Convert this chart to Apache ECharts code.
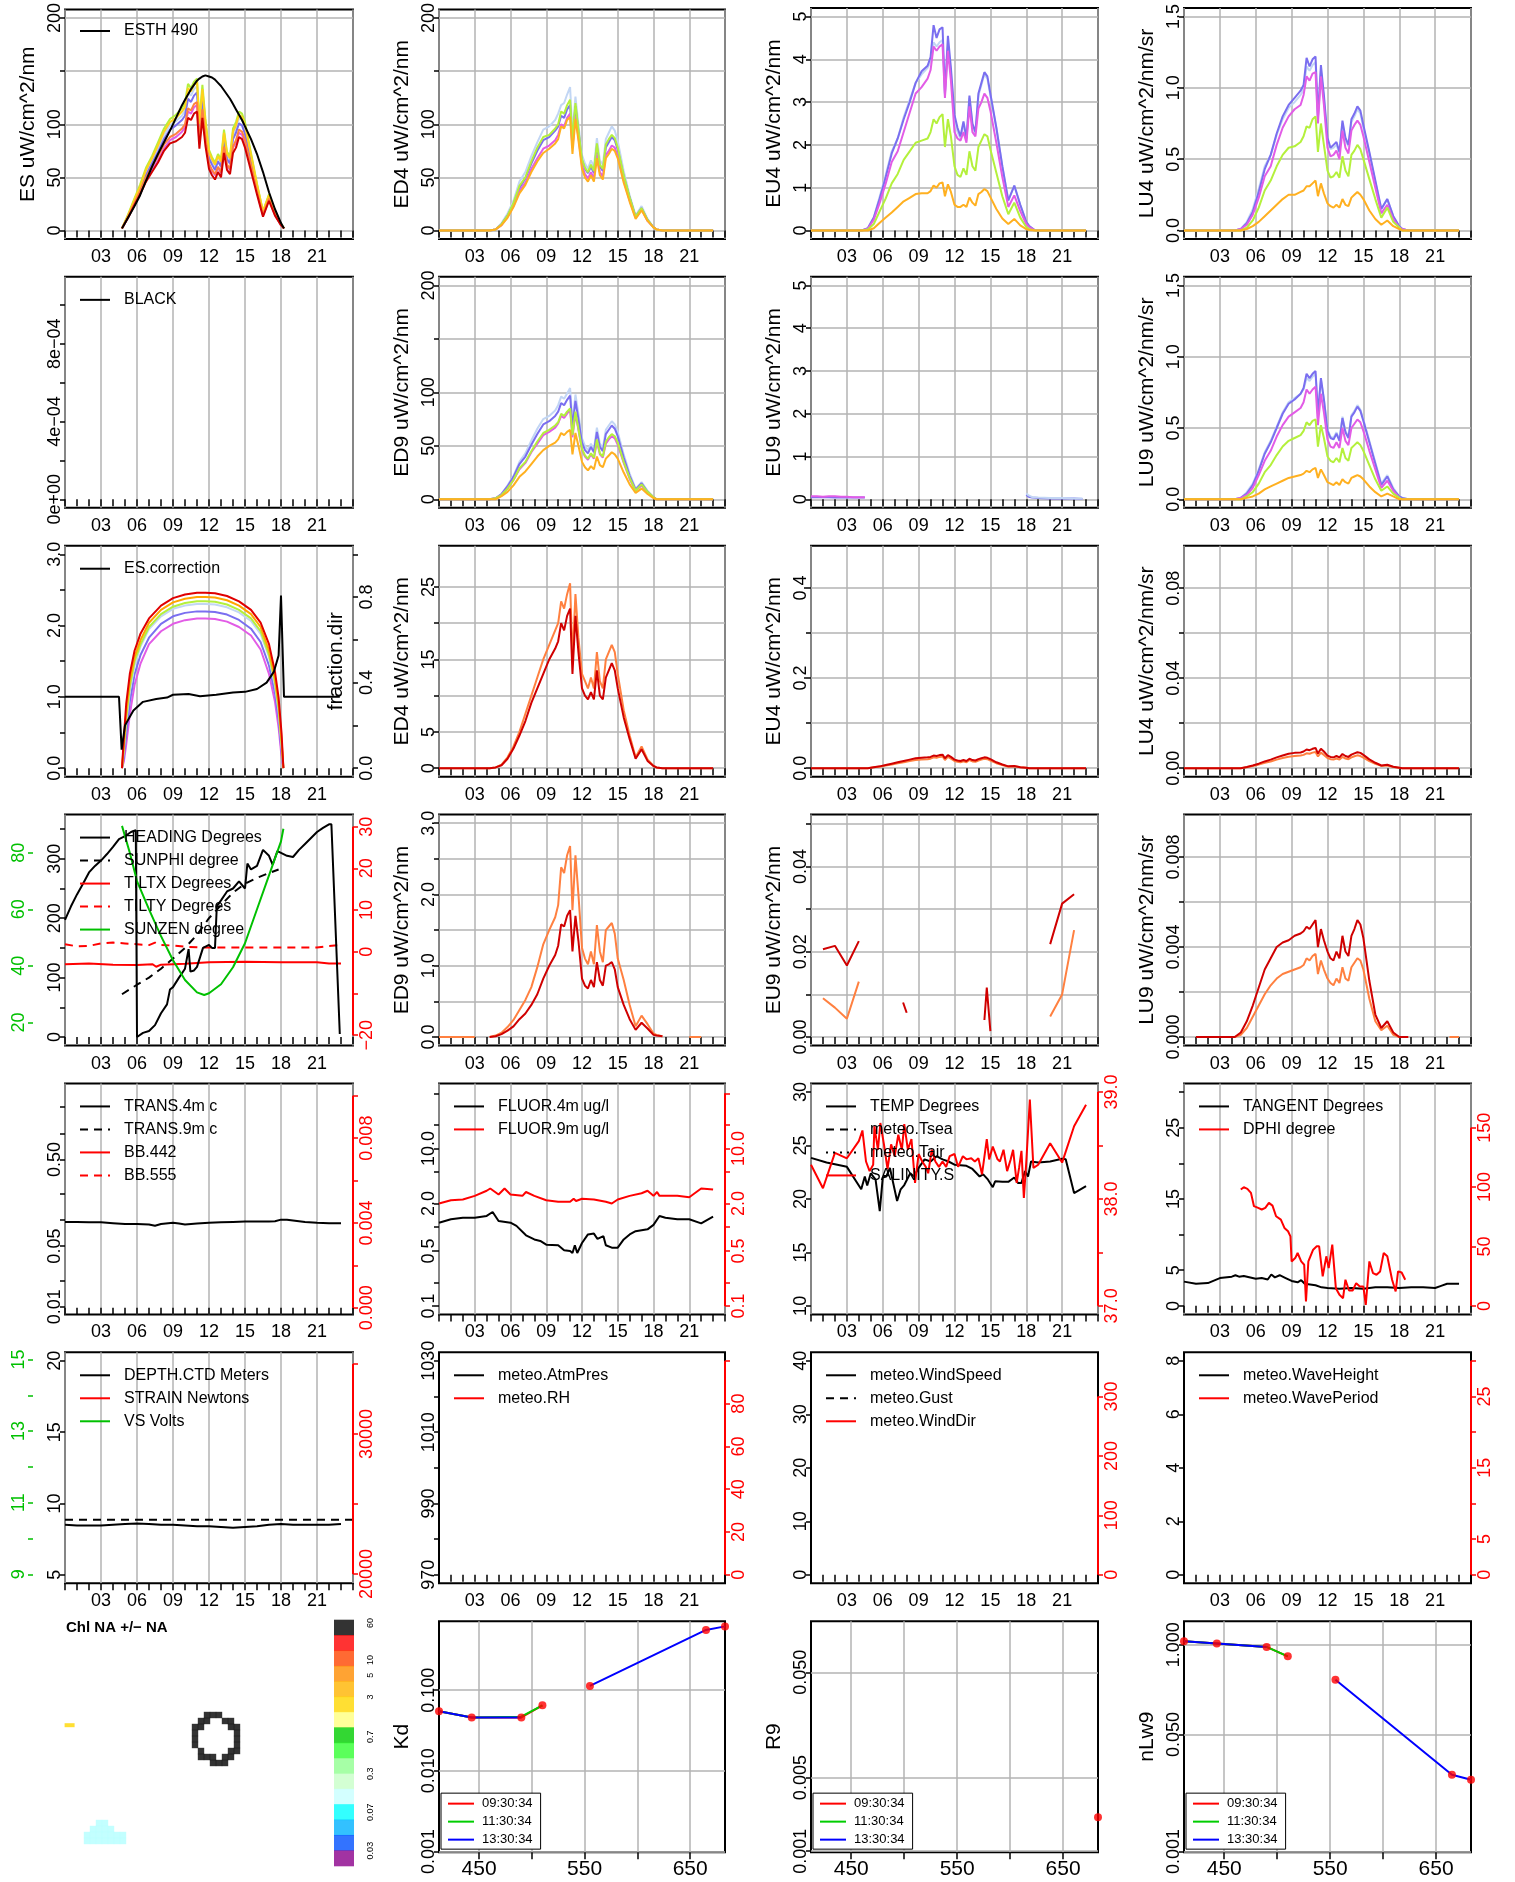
<!DOCTYPE html>
<html><head><meta charset="utf-8">
<script src="https://cdn.jsdelivr.net/npm/echarts@6.0.0/dist/echarts.min.js"></script>
<style>html,body{margin:0;padding:0;background:#fff;}#c{width:1515px;height:1882px;}</style>
</head><body><div id="c"></div>
<script>
// ================= DATA =================
const TD=[4.75,5.25,5.75,6.25,6.75,7.25,7.75,8.25,8.75,9.25,9.75,10,10.25,10.5,10.75,11,11.2,11.45,11.7,12,12.25,12.5,12.75,13,13.25,13.5,13.75,14,14.25,14.5,14.75,15,15.5,16,16.5,17,17.5,18,18.25];
const TE=[0,4.25].concat(TD,[18.75,23]);

// ES (row 1, col 1)
const ES_ESTH=[2,12,22,33,47,60,72,83,94,106,118,123,128,133,137,141,143,145,146,145,144,142,139,136,132,128,124,119,114,109,104,98,86,72,55,36,20,7,2];
const ES_RD=[2,12,23,34,46,55,64,75,82,84,88,92,106,104,110,112,77,106,80,58,52,48,55,50,73,57,53,73,78,88,86,78,56,34,13,28,14,5,2];
const ES_CO=[2,13,25,37,50,60,70,81,88,91,96,100,115,113,119,121,85,114,87,63,57,53,60,55,79,62,58,79,85,95,93,85,61,37,15,30,15,5,2];
const ES_MG=[2,12,24,35,47,57,66,77,85,88,93,97,112,110,116,118,82,112,85,62,56,52,59,54,77,61,57,78,83,92,90,83,60,36,14,29,15,5,2];
const ES_BL=[2,13,26,38,52,63,74,86,95,99,104,108,124,121,127,130,92,123,94,68,62,57,65,60,85,67,63,86,92,101,99,91,66,40,16,31,16,5,2];
const ES_LB=[2,14,27,40,55,66,78,90,99,103,108,113,130,127,133,136,96,129,99,72,65,60,68,63,89,70,66,90,96,106,104,96,69,42,17,33,17,6,2];
const ES_OR=[2,14,28,41,57,68,80,93,102,106,112,116,134,131,137,140,100,133,102,74,67,62,70,65,92,72,68,93,99,109,107,99,71,43,18,33,17,6,2];
const ES_GY=[2,15,29,43,59,70,83,96,105,109,115,120,138,134,140,143,104,137,105,76,69,64,72,67,95,74,70,96,102,112,110,102,73,44,18,34,18,6,2];

// ED4
const ED4_OR=[0,0,1,5,12,22,35,43,55,65,73,77,82,86,98,96,104,107,72,105,85,58,50,46,52,46,68,52,48,68,72,77,75,68,45,27,11,19,9,3,1,0,0];
const ED4_MG=[0,0,1,5,13,23,37,45,58,68,77,80,85,90,100,98,106,110,78,108,88,61,53,49,55,49,72,55,51,71,75,80,78,70,47,28,12,20,9,3,1,0,0];
const ED4_BL=[0,0,1,6,14,25,40,49,63,75,85,88,94,98,108,106,114,118,82,117,93,66,58,54,60,54,79,60,56,78,83,88,85,76,51,31,13,21,10,3,1,0,0];
const ED4_GR=[0,0,1,6,14,26,42,50,65,78,88,90,96,100,112,110,118,123,85,120,95,67,59,55,62,56,82,62,58,81,86,90,87,78,52,31,13,21,10,3,1,0,0];
const ED4_LB=[0,0,1,7,16,28,46,55,70,83,95,98,104,110,118,120,128,135,92,126,100,71,63,58,66,60,87,66,62,86,92,98,94,84,56,33,14,23,11,3,1,0,0];

// EU4
const EU4_BL=[0,0,0.05,0.3,0.75,1.25,1.8,2.15,2.6,3.0,3.45,3.72,3.85,4.05,4.8,4.5,4.7,4.75,3.2,4.55,3.8,2.7,2.4,2.2,2.55,2.15,3.15,2.5,2.3,3.2,3.45,3.7,3.6,3.2,2.4,1.5,0.7,1.05,0.6,0.2,0.1,0,0];
const EU4_LB=[0,0,0.05,0.3,0.8,1.3,1.85,2.15,2.65,3.05,3.45,3.65,3.8,3.95,4.4,4.3,4.4,4.45,3.15,4.3,3.7,2.6,2.3,2.15,2.5,2.1,3.1,2.45,2.25,3.15,3.4,3.65,3.55,3.15,2.4,1.5,0.7,1.05,0.6,0.2,0.1,0,0];
const EU4_MG=[0,0,0.04,0.25,0.65,1.1,1.6,1.85,2.3,2.75,3.2,3.35,3.55,3.75,4.3,4.2,4.3,4.35,3.1,4.2,3.5,2.3,2.15,2.1,2.3,2.05,2.9,2.3,2.2,2.85,3.0,3.2,3.1,2.8,2.05,1.25,0.55,0.82,0.45,0.15,0.08,0,0];
const EU4_GR=[0,0,0.02,0.15,0.45,0.75,1.1,1.32,1.65,1.85,2.05,2.1,2.15,2.3,2.6,2.5,2.65,2.72,1.95,2.6,2.2,1.5,1.3,1.25,1.45,1.3,1.85,1.5,1.4,1.95,2.1,2.25,2.2,1.9,1.35,0.8,0.38,0.65,0.3,0.08,0.03,0,0];
const EU4_OR=[0,0,0,0.05,0.18,0.3,0.42,0.55,0.68,0.76,0.85,0.87,0.87,0.92,1.05,1.0,1.1,1.12,0.8,1.08,0.9,0.6,0.55,0.55,0.6,0.55,0.77,0.65,0.58,0.85,0.9,0.97,0.92,0.78,0.5,0.28,0.15,0.27,0.12,0.03,0.01,0,0];

// LU4
const LU4_BL=[0,0,0.01,0.05,0.13,0.27,0.43,0.53,0.68,0.8,0.88,0.93,0.98,1.02,1.21,1.15,1.2,1.22,0.8,1.16,0.95,0.65,0.58,0.6,0.62,0.55,0.77,0.65,0.6,0.78,0.82,0.87,0.84,0.74,0.55,0.35,0.15,0.22,0.1,0.03,0.01,0,0];
const LU4_LB=[0,0,0.01,0.06,0.15,0.29,0.45,0.53,0.67,0.78,0.86,0.9,0.95,0.99,1.15,1.12,1.16,1.18,0.78,1.12,0.92,0.63,0.57,0.58,0.6,0.54,0.75,0.63,0.59,0.76,0.8,0.85,0.82,0.72,0.54,0.34,0.15,0.22,0.1,0.03,0.01,0,0];
const LU4_MG=[0,0,0.01,0.04,0.11,0.23,0.38,0.45,0.6,0.72,0.8,0.85,0.88,0.95,1.08,1.05,1.1,1.11,0.75,1.08,0.88,0.58,0.52,0.53,0.56,0.5,0.7,0.58,0.54,0.7,0.74,0.77,0.74,0.66,0.48,0.3,0.12,0.18,0.08,0.02,0.01,0,0];
const LU4_GR=[0,0,0,0.02,0.07,0.16,0.28,0.35,0.45,0.53,0.58,0.59,0.62,0.66,0.73,0.72,0.78,0.8,0.55,0.75,0.6,0.42,0.37,0.38,0.41,0.37,0.52,0.42,0.38,0.53,0.56,0.6,0.57,0.5,0.36,0.22,0.09,0.16,0.06,0.02,0,0,0];
const LU4_OR=[0,0,0,0.01,0.03,0.06,0.1,0.14,0.18,0.22,0.25,0.25,0.27,0.28,0.31,0.31,0.33,0.35,0.24,0.33,0.26,0.19,0.17,0.16,0.18,0.16,0.22,0.18,0.17,0.23,0.25,0.27,0.25,0.22,0.14,0.08,0.04,0.07,0.03,0.01,0,0,0];

// ED9
const ED9_OR=[0,0,0,3,7,13,21,26,33,40,46,50,53,56,62,60,63,65,42,62,50,35,30,27,31,28,40,32,30,38,41,44,42,38,25,14,6,10,5,1,0,0,0];
const ED9_MG=[0,0,1,4,10,18,28,34,44,52,60,63,67,71,78,76,80,84,58,80,65,46,40,37,42,38,54,42,39,52,56,59,57,51,34,19,8,13,6,2,0,0,0];
const ED9_GR=[0,0,1,4,10,18,29,35,45,54,62,65,69,72,80,78,82,85,60,82,66,47,41,38,43,39,56,43,40,54,58,61,59,53,35,20,8,14,7,2,0,0,0];
const ED9_BL=[0,0,1,5,12,21,33,40,51,61,70,73,78,82,90,88,93,97,68,92,75,53,46,43,49,44,63,49,45,61,65,69,66,59,39,22,9,15,7,2,0,0,0];
const ED9_LB=[0,0,1,5,13,22,35,43,55,66,75,78,83,88,96,94,99,104,72,98,80,57,50,46,52,47,67,52,48,65,69,73,70,63,42,24,10,16,8,2,0,0,0];

// EU9 (small fragments)
const EU9_T1=[0,0.5,1,1.5,2,2.5,3,3.5,4,4.5];
const EU9_MG1=[0.07,0.07,0.06,0.07,0.07,0.06,0.06,0.05,0.05,0.05];
const EU9_BL1=[0.05,0.05,0.05,0.05,0.04,0.04,0.04,0.04,0.04,0.04];
const EU9_T2=[18,18.2,18.5,19,20,21,22,22.7];
const EU9_LB2=[0.14,0.09,0.05,0.04,0.03,0.03,0.02,0.02];
const EU9_BL2=[0.1,0.06,0.04,0.03,0.02,0.02,0.02,0.01];

// LU9
const LU9_BL=[0,0,0.01,0.04,0.1,0.2,0.32,0.4,0.5,0.6,0.67,0.7,0.74,0.78,0.88,0.85,0.88,0.9,0.6,0.85,0.7,0.48,0.43,0.42,0.46,0.41,0.57,0.47,0.43,0.58,0.61,0.65,0.62,0.55,0.4,0.25,0.1,0.16,0.07,0.02,0.01,0,0];
const LU9_LB=[0,0,0.01,0.05,0.11,0.21,0.33,0.41,0.51,0.61,0.68,0.71,0.74,0.77,0.85,0.83,0.86,0.88,0.6,0.84,0.7,0.49,0.44,0.43,0.47,0.42,0.58,0.48,0.44,0.59,0.62,0.66,0.63,0.56,0.41,0.26,0.11,0.17,0.08,0.02,0.01,0,0];
const LU9_MG=[0,0,0.01,0.03,0.08,0.17,0.27,0.34,0.44,0.52,0.58,0.61,0.64,0.68,0.77,0.74,0.77,0.79,0.52,0.74,0.61,0.42,0.37,0.36,0.4,0.36,0.5,0.41,0.38,0.5,0.53,0.56,0.54,0.48,0.34,0.21,0.08,0.13,0.06,0.01,0,0,0];
const LU9_GR=[0,0,0,0.02,0.05,0.11,0.19,0.24,0.31,0.37,0.41,0.43,0.45,0.48,0.54,0.52,0.55,0.56,0.37,0.52,0.43,0.3,0.27,0.26,0.29,0.26,0.36,0.29,0.27,0.36,0.38,0.4,0.38,0.34,0.24,0.14,0.06,0.09,0.04,0.01,0,0,0];
const LU9_OR=[0,0,0,0.01,0.02,0.04,0.07,0.09,0.11,0.13,0.15,0.16,0.17,0.18,0.2,0.19,0.21,0.22,0.15,0.21,0.17,0.12,0.11,0.1,0.12,0.1,0.14,0.12,0.11,0.15,0.16,0.17,0.16,0.14,0.09,0.05,0.02,0.04,0.02,0,0,0,0];

// ES.correction and fraction.dir
const ESC_T=[0,4.5,4.72,5,5.7,6.5,7.6,8.5,9,10.3,11.25,12.6,14,15,16,16.8,17.4,17.8,18,18.25,22.9];
const ESC_V=[1.0,1.0,0.26,0.6,0.81,0.93,0.97,0.99,1.03,1.04,1.01,1.03,1.06,1.07,1.11,1.2,1.35,1.58,2.42,1.0,1.0];
const ARC_T=[4.75,4.9,5.1,5.4,5.8,6.3,7,8,9,10,11,11.7,12.5,13.5,14.5,15.5,16.3,17,17.5,17.8,18.05,18.2];
const ARC_RD=[0,0.14,0.3,0.44,0.55,0.63,0.7,0.76,0.795,0.812,0.82,0.82,0.818,0.805,0.78,0.74,0.68,0.58,0.45,0.33,0.16,0];
const ARC_OR=[0,0.11,0.26,0.41,0.52,0.6,0.68,0.74,0.775,0.792,0.8,0.8,0.798,0.785,0.76,0.72,0.66,0.55,0.42,0.3,0.13,0];
const ARC_GR=[0,0.09,0.23,0.38,0.5,0.58,0.66,0.72,0.755,0.772,0.78,0.78,0.778,0.765,0.74,0.7,0.64,0.53,0.4,0.28,0.11,0];
const ARC_LB=[0,0.08,0.21,0.36,0.48,0.57,0.65,0.71,0.745,0.76,0.767,0.767,0.765,0.752,0.728,0.688,0.628,0.52,0.385,0.265,0.1,0];
const ARC_BL=[0,0.05,0.16,0.31,0.44,0.53,0.61,0.675,0.71,0.726,0.733,0.733,0.73,0.718,0.693,0.652,0.59,0.48,0.35,0.23,0.07,0];
const ARC_MG=[0,0.03,0.11,0.25,0.39,0.49,0.58,0.64,0.675,0.692,0.7,0.7,0.697,0.685,0.66,0.62,0.555,0.44,0.31,0.19,0.05,0];

// red-band radiometry
const ED4R_CO=[0,0,0.1,0.5,1.5,3,5,7.5,10,12.5,15,17,19,20,23,22,24,25.5,15,24,18,13,12,11,12.5,11,16,12,11,15,16,17,16,13,8,4.5,1.5,3,1.2,0.3,0.1,0,0];
const ED4R_RD=[0,0,0.1,0.4,1.3,2.7,4.5,6.5,9,11,13,15,16.5,17.5,20,19,21,22,13,21,16,11,10,9.5,10.5,9.5,13.5,10,9.5,12.5,13.5,14.5,13.5,11,7,4,1.3,2.6,1,0.3,0.1,0,0];
const EU4R_RD=[0,0,0,0.002,0.004,0.007,0.01,0.013,0.016,0.019,0.022,0.023,0.024,0.025,0.028,0.027,0.029,0.03,0.022,0.029,0.025,0.019,0.017,0.016,0.018,0.016,0.021,0.018,0.017,0.02,0.022,0.024,0.023,0.02,0.013,0.008,0.004,0.005,0.002,0.001,0,0,0];
const EU4R_CO=[0,0,0,0.002,0.003,0.006,0.008,0.011,0.013,0.016,0.018,0.019,0.02,0.021,0.024,0.023,0.025,0.026,0.018,0.025,0.021,0.016,0.014,0.013,0.015,0.013,0.018,0.015,0.014,0.017,0.019,0.021,0.02,0.017,0.011,0.007,0.003,0.004,0.002,0.001,0,0,0];
const LU4R_RD=[0,0,0,0.0005,0.0012,0.002,0.003,0.0038,0.0048,0.0056,0.0064,0.0068,0.007,0.0074,0.0083,0.008,0.0086,0.009,0.0065,0.0086,0.0074,0.0056,0.005,0.0048,0.0054,0.0048,0.0063,0.0054,0.005,0.006,0.0066,0.0071,0.0068,0.0059,0.0039,0.0024,0.0012,0.0015,0.0006,0.0002,0,0,0];
const LU4R_CO=[0,0,0,0.0004,0.001,0.0016,0.0024,0.003,0.0038,0.0045,0.0051,0.0054,0.0056,0.0059,0.0066,0.0064,0.0069,0.0072,0.0052,0.0069,0.0059,0.0045,0.004,0.0038,0.0043,0.0038,0.005,0.0043,0.004,0.0048,0.0053,0.0057,0.0054,0.0047,0.0031,0.0019,0.001,0.0012,0.0005,0.0002,0,0,0];
const ED9R_CO=[null,0,0.02,0.06,0.14,0.24,0.38,0.52,0.7,0.98,1.3,1.5,1.68,1.85,2.38,2.3,2.55,2.68,1.78,2.55,2.0,1.25,1.1,1.02,1.2,1.02,1.57,1.2,1.05,1.5,1.55,1.6,1.45,1.1,0.8,0.45,0.15,0.3,0.18,0.05,0.03,0.01,null];
const ED9R_RD=[null,0,0.01,0.04,0.09,0.15,0.25,0.33,0.45,0.6,0.82,1.0,1.15,1.28,1.58,1.55,1.7,1.78,1.2,1.7,1.35,0.82,0.72,0.68,0.8,0.7,1.05,0.8,0.72,1.0,1.02,1.05,0.95,0.7,0.45,0.25,0.1,0.2,0.12,0.03,0.02,0.01,null];
const ED9R_Z1_T=[0,3], ED9R_Z1=[0,0], ED9R_Z2_T=[21,22], ED9R_Z2=[0,0];
const EU9R_RD_A_T=[1,2,3,4], EU9R_RD_A=[0.0206,0.0214,0.0168,0.0225];
const EU9R_CO_A_T=[1,2,3,4], EU9R_CO_A=[0.0091,0.0069,0.0043,0.013];
const EU9R_RD_B_T=[7.7,8], EU9R_RD_B=[0.0081,0.0057];
const EU9R_RD_C_T=[14.5,14.7,14.8,15], EU9R_RD_C=[0.004,0.0116,0.0116,0.0014];
const EU9R_RD_D_T=[20,21,22], EU9R_RD_D=[0.0218,0.0313,0.0335];
const EU9R_CO_D_T=[20,21,22], EU9R_CO_D=[0.0048,0.01,0.0251];
const LU9R_T=[1,4.25].concat(TD,[18.75]);
const LU9R_RD=[0,0,0.0002,0.0007,0.0014,0.0022,0.003,0.0035,0.004,0.0042,0.0043,0.0045,0.0046,0.0047,0.0049,0.0048,0.005,0.0052,0.004,0.0048,0.0043,0.0038,0.0035,0.0034,0.0038,0.0035,0.0045,0.0038,0.0036,0.0045,0.0048,0.0052,0.005,0.0044,0.0025,0.001,0.0004,0.0007,0.0002,0,0,0];
const LU9R_CO=[0,0,0.0001,0.0004,0.0009,0.0014,0.0019,0.0023,0.0026,0.0028,0.0029,0.003,0.0031,0.0032,0.0035,0.0034,0.0036,0.0037,0.0028,0.0034,0.003,0.0026,0.0024,0.0023,0.0026,0.0024,0.0031,0.0026,0.0025,0.0031,0.0033,0.0035,0.0034,0.003,0.0017,0.0007,0.0003,0.0005,0.0001,0,0,0];
const LU9R_TAIL_T=[22.2,23], LU9R_TAIL=[0,0];

// HEADING panel
const HEAD_T=[0,0.5,1,1.5,2,2.5,3,3.5,4,4.5,5,5.5,5.9,6.0,6.5,7,7.5,8,8.5,8.75,9,9.5,10,10.3,10.45,10.75,11,11.5,12,12.25,12.5,12.65,13,13.5,14,14.5,15,15.2,15.5,16,16.5,17,17.3,17.7,18,18.5,19,19.5,20,20.5,21,21.5,22,22.2,22.9];
const HEAD_V=[197,220,240,258,277,288,297,308,320,333,338,345,348,0,7,10,20,40,55,80,84,100,115,148,110,112,118,150,155,150,150,220,230,245,250,262,250,292,282,288,315,305,290,313,310,305,303,315,325,335,345,352,358,358,5];
const SUNPHI_T=[4.75,6,7,8,9,10,11,12,13,14,15,16,17,17.8];
const SUNPHI_V=[72,88,100,115,132,150,172,200,222,243,258,268,276,282];
const TILTX_T=[0,2,4,6,7.3,7.6,8,10,12,15,18,21,22,23];
const TILTX_V=[-3,-2.8,-3.1,-3.2,-3.0,-3.6,-3.1,-2.9,-2.5,-2.4,-2.5,-2.5,-2.8,-2.8];
const TILTY_T=[0,1,2,3,4,5,6,7,7.5,8,9,10,11,12,15,18,21,22,23];
const TILTY_V=[1.8,1.3,1.4,2.0,2.2,2.0,1.8,1.6,2.2,1.6,1.5,1.2,1.1,1.0,1.0,1.0,1.0,1.4,1.6];
const SUNZEN_T=[4.75,5.4,6,7,8,9,10,11,11.6,12,13,14,15,16,17,18,18.2];
const SUNZEN_V=[89.5,80,70,60,50.5,42,35,30.6,29.7,30.3,33.5,39.5,48,60,72,84,88.5];

// TRANS / FLUOR / TEMP / TANGENT
const TRANS_T=[0,1,2,3,4,5,6,7,7.5,8,9,9.5,10,11,12,13,14,15,16,17,17.5,18,18.5,19,20,21,22,23];
const TRANS_V=[0.095,0.095,0.094,0.094,0.092,0.09,0.09,0.089,0.086,0.09,0.093,0.091,0.089,0.091,0.093,0.094,0.095,0.096,0.096,0.096,0.097,0.101,0.101,0.099,0.095,0.093,0.092,0.092];
const F4_T=[0,1,2,3,4,4.5,5,6,6.5,7.3,8,8.5,9,10,10.5,11,11.2,11.4,11.6,12,12.5,13,13.3,13.8,14,14.5,15,15.5,16,16.5,17.5,18,18.5,19,20,21,22,23];
const F4_V=[1.14,1.26,1.32,1.32,1.39,1.56,1.2,1.14,1.04,0.79,0.7,0.67,0.6,0.59,0.51,0.5,0.47,0.59,0.47,0.63,0.81,0.83,0.71,0.77,0.59,0.55,0.55,0.7,0.81,0.89,0.94,1.07,1.39,1.32,1.26,1.26,1.12,1.36];
const F9_T=[0,1,2,3,4,4.3,5,5.5,6,7,7.3,8,9,10,11,11.3,11.5,12,13,14,14.5,15,16,17,17.5,18,18.3,18.5,20,21,22,23];
const F9_V=[2.0,2.2,2.25,2.5,2.9,3.1,2.6,3.1,2.6,2.5,2.8,2.5,2.2,2.1,2.1,2.3,2.15,2.3,2.25,2.1,2.0,2.25,2.5,2.7,2.9,2.5,2.8,2.5,2.5,2.4,3.1,3.0];
const TEMP_T=[0,1.3,3,4.2,4.5,4.7,5,5.4,5.75,6,6.3,6.6,7.2,7.5,7.8,8.3,8.6,9,9.5,10,10.5,11,11.5,12,13,13.5,14.1,14.4,14.8,15.2,15.4,16,16.5,17,17.3,17.6,17.9,18.15,18.4,19,20,21,21.3,22,23];
const TEMP_V=[23.84,23.4,23.0,20.9,22.1,21.25,22.4,21.8,18.85,22.0,22.1,22.9,19.8,20.9,21.3,22.4,22.1,22.9,23.7,23.5,24.0,23.7,23.5,23.2,23.1,22.8,22.1,22.3,21.8,21.1,21.65,21.6,21.6,22.0,21.5,21.5,22.6,22.1,23.5,23.4,23.5,23.75,23.7,20.55,21.2];
const SAL_T=[0,1,2,3,4,4.3,4.6,4.9,5.2,5.3,5.6,5.8,6.1,6.4,6.7,7,7.3,7.6,7.8,8.1,8.4,8.7,9,9.3,9.6,9.8,10.1,10.4,10.7,11,11.3,11.6,12,12.3,12.7,13,13.4,13.7,14,14.3,14.7,14.9,15.2,15.6,15.8,16.1,16.4,16.7,16.9,17.2,17.4,17.6,17.8,18,18.3,18.6,19,20,21,22,23];
const SAL_V=[38.32,38.10,38.43,38.38,38.54,38.64,38.35,38.26,38.32,38.68,38.46,38.71,38.51,38.28,38.51,38.4,38.6,38.46,38.7,38.46,38.56,38.15,38.42,38.35,38.3,38.24,38.46,38.35,38.3,38.35,38.3,38.4,38.42,38.3,38.4,38.37,38.38,38.35,38.38,38.23,38.56,38.37,38.49,38.37,38.35,38.46,38.26,38.37,38.46,38.15,38.29,38.45,38.01,38.34,38.93,38.29,38.32,38.52,38.34,38.68,38.88];
const TAN_T=[0,1,2,3,4,4.3,4.6,5,6,6.5,7,7.3,7.6,8,8.5,9,9.5,9.8,10.1,11,11.5,12,13,14,15,16,17,18,19,20,21,21.5,22,23];
const TAN_V=[3.4,3.1,3.2,3.9,4.1,4.3,4.1,4.2,3.8,3.9,3.7,4.4,4.0,4.3,3.9,3.5,3.3,3.6,3.1,2.9,2.6,2.5,2.4,2.5,2.4,2.6,2.6,2.5,2.6,2.6,2.5,2.8,3.1,3.1];
const DPHI_T=[4.75,5,5.3,5.6,5.85,6.2,6.5,6.8,7.1,7.4,7.7,8.1,8.4,8.7,8.9,9.0,9.3,9.5,9.8,10.05,10.2,10.4,10.8,11.1,11.3,11.6,11.9,12.1,12.4,12.7,13,13.3,13.5,13.8,14.1,14.4,14.7,15,15.2,15.5,15.8,16.1,16.4,16.7,17,17.4,17.7,17.9,18.2,18.5];
const DPHI_V=[97.9,99.9,98.5,95.1,83.9,82.5,81.1,82.5,86.7,84.4,75.4,72.6,65.6,62.8,58.5,37.4,40.2,44.5,37.4,34.6,3.7,37.4,47.3,50.1,50.1,24.8,41.7,31.8,51.5,14.9,9.3,6.5,22.0,12.9,12.9,19.1,16.3,16.3,0.8,37.4,27.6,26.2,29.0,44.5,41.7,22.0,12.1,29.0,28.1,22.0];

// DEPTH
const DEP_T=[0,1,2,3,4,5,6,7,8,9,10,11,12,13,14,15,16,17,18,19,20,21,22,23];
const DEP_V=[8.5,8.45,8.45,8.45,8.5,8.55,8.6,8.55,8.5,8.5,8.45,8.4,8.4,8.35,8.3,8.35,8.4,8.5,8.55,8.5,8.5,8.5,8.5,8.55];
const DEP2_T=[0,24], DEP2_V=[8.85,8.85];

// spectra (row 7)
const WL=[412,443,490,510,555,665,683];
const KD_PTS=[0.055,0.046,0.046,0.065,0.113,0.56,0.62];
const KD_0930=[0.055,0.046,0.046,0.065,null,null,null];
const KD_1130=[0.055,0.046,0.047,0.065,null,null,null];
const KD_1330=[0.055,0.046,0.046,null,0.113,0.56,0.62];
const R9_PTS=[null,null,null,null,null,null,0.0021];
const NLW_PTS=[1.12,1.04,0.93,0.68,0.31,0.013,0.011];
const NLW_0930=[1.12,1.04,0.93,0.68,null,null,null];
const NLW_1130=[1.12,1.04,0.93,0.68,null,null,null];
const NLW_1330=[1.12,1.04,0.93,null,0.31,0.013,0.011];
const WL_TICKS=[450,500,550,600,650], WL_LABELS=[450,550,650];

// Chl map cells and colour bar
const MAP_RING=[[24,12],[25,12],[26,12],[23,13],[24,13],[27,13],[28,13],[22,14],[23,14],[28,14],[29,14],[22,15],[29,15],[22,16],[29,16],[22,17],[29,17],[23,18],[28,18],[29,18],[23,19],[24,19],[25,19],[27,19],[28,19],[25,20],[26,20],[27,20]];
const MAP_CYAN=[[6,30],[7,30],[5,31],[6,31],[7,31],[8,31],[4,32],[5,32],[6,32],[7,32],[8,32],[9,32],[10,32],[4,33],[5,33],[6,33],[7,33],[8,33],[9,33],[10,33]];
const MAP_YELLOW=[[1.6,14.2]];
const CB_COLORS=['#000000','#ff0000','#ff4500','#ff8c00','#ffb400','#ffd700','#ffff80','#00cd00','#32ff32','#90ff90','#c8ffc8','#c8ffff','#00ffff','#00b2ff','#0050ff','#8b008b'];
const CB_LABELS=['60','10','5','3','0.7','0.3','0.07','0.03'];
const CB_LABEL_POS=[0.2,2.6,3.6,5.0,7.6,10,12.5,15];

// ================= CHART =================
const FONT='"Liberation Sans", Arial, Helvetica, sans-serif';
const GRIDC='#b3b3b3';
const RED='#ff0000', GREEN='#00c000';
const C_LB='#c2d6f4', C_BL='#7a6ef0', C_MG='#e25ce6', C_GR='#b4f03c', C_OR='#ffb020', C_CO='#ff8040', C_RD='#d00000', C_YL='#ffd21c';
const ROWH=1882/7;
const COLL=[65,439,811,1184], COLW=[288,286,287,287];
const O={animation:false,backgroundColor:'#ffffff',grid:[],xAxis:[],yAxis:[],series:[],legend:[],title:[]};
const mm=s=>s.replace('-','\u2212');
const f0=v=>mm(String(v)), f1=v=>mm(v.toFixed(1)), f2=v=>v.toFixed(2), f3=v=>v.toFixed(3);

function addY(g,a){
  const col=a.color||'#000', right=a.pos==='right';
  O.yAxis.push({gridIndex:g,type:a.log?'log':'value',logBase:10,min:a.min,max:a.max,position:right?'right':'left',offset:a.offset||0,
    axisLine:{show:false},
    axisTick:{show:true,length:5,customValues:a.ticks,lineStyle:{color:col,width:1.5}},
    minorTick:{show:false},
    axisLabel:{customValues:a.labels,rotate:90,fontSize:18,margin:a.lm!=null?a.lm:(right?5:1),fontFamily:FONT,color:col,formatter:a.fmt||f0},
    splitLine:{show:!!a.hgrid,lineStyle:{color:GRIDC,width:1.5}},
    name:a.name||'',nameLocation:'middle',nameGap:a.nameGap!=null?a.nameGap:26,nameRotate:90,
    nameTextStyle:{fontSize:21,fontFamily:FONT,color:'#000'}});
  return O.yAxis.length-1;
}
function P(r,c,cfg){
  const g=O.grid.length;
  O.grid.push({left:COLL[c],top:r*ROWH+8,width:COLW[c],height:231,show:true,borderColor:'#000',borderWidth:2,backgroundColor:'rgba(0,0,0,0)'});
  const xi=O.xAxis.length;
  if(cfg.wl){
    O.xAxis.push({gridIndex:g,type:'value',min:WL[0],max:WL[WL.length-1],axisLine:{show:false},
      axisTick:{show:true,length:7,customValues:WL_TICKS,lineStyle:{color:'#000',width:1.5}},
      axisLabel:{customValues:WL_LABELS,fontSize:21,margin:7,fontFamily:FONT,color:'#000'},
      splitLine:{show:cfg.vgrid!==false,lineStyle:{color:GRIDC,width:1.5}}});
  } else {
    O.xAxis.push({gridIndex:g,type:'value',min:0,max:24,interval:3,axisLine:{show:false},
      axisTick:{show:true,length:7,lineStyle:{color:'#000',width:1.5}},
      minorTick:{show:true,splitNumber:3,length:7,lineStyle:{color:'#000',width:1.5}},
      axisLabel:{fontSize:18,margin:9,fontFamily:FONT,color:'#000',formatter:v=>(v>0&&v<24)?String(v).padStart(2,'0'):''},
      splitLine:{show:cfg.vgrid!==false,lineStyle:{color:GRIDC,width:1.5}}});
  }
  const ys=cfg.y.map(a=>addY(g,a));
  return {g,xi,ys,r,c,w:COLW[c],xmin:cfg.wl?WL[0]:0,xmax:cfg.wl?WL[WL.length-1]:24};
}
function L(p,yk,xs,vs,color,o){
  o=o||{};
  O.series.push({type:'line',name:o.name,xAxisIndex:p.xi,yAxisIndex:p.ys[yk],
    data:xs.map((x,i)=>[x,(vs[i]==null)?'-':vs[i]]),
    symbol:'none',showSymbol:false,
    lineStyle:{color:color,width:o.w||2,type:o.dash||'solid'},
    itemStyle:{color:color},silent:true,connectNulls:false,z:o.z||3,emphasis:{disabled:true}});
}
function PTS(p,yk,xs,vs,color){
  O.series.push({type:'scatter',xAxisIndex:p.xi,yAxisIndex:p.ys[yk],
    data:xs.map((x,i)=>[x,vs[i]]).filter(d=>d[1]!=null),symbol:'circle',symbolSize:8,
    itemStyle:{color:color},silent:true,z:6,clip:false});
}
function SEG(p,yk,side,a,b,color,off){
  const x=side==='right'?p.xmax:p.xmin-(off||0)/p.w*(p.xmax-p.xmin);
  O.series.push({type:'line',xAxisIndex:p.xi,yAxisIndex:p.ys[yk],data:[[x,a],[x,b]],symbol:'none',
    lineStyle:{color:color,width:2},clip:false,silent:true,z:6});
}
function EMPTY(name,color,dash){
  O.series.push({type:'line',name:name,data:[],xAxisIndex:0,yAxisIndex:0,symbol:'none',lineStyle:{color:color,width:2,type:dash||'solid'},itemStyle:{color:color}});
}
function LEG(p,names){
  O.legend.push({left:COLL[p.c]+14,top:p.r*ROWH+23,orient:'vertical',itemWidth:30,itemHeight:12,itemGap:7,padding:0,
    selectedMode:false,data:names,itemStyle:{opacity:0,borderWidth:0},
    textStyle:{fontSize:16,fontFamily:FONT,color:'#000',padding:[0,0,0,9]}});
}
function LEGBOX(p,names){
  O.legend.push({left:COLL[p.c]+2,top:p.r*ROWH+180,orient:'vertical',itemWidth:26,itemHeight:10,itemGap:5,padding:[4,8,3,6],
    borderColor:'#000',borderWidth:1,backgroundColor:'#fff',selectedMode:false,data:names,itemStyle:{opacity:0,borderWidth:0},
    textStyle:{fontSize:13,fontFamily:FONT,color:'#000',padding:[0,0,0,3]}});
}
const DASH=[8,6], DOT=[2,5];
const TK=(a,b,s)=>{const r=[];for(let v=a;v<=b+1e-9;v+=s)r.push(+v.toFixed(6));return r;};

// ---- Row 1
let p=P(0,0,{y:[{min:-8,max:208,ticks:[0,50,100,150,200],labels:[0,50,100,200],hgrid:true,name:'ES uW/cm^2/nm'}]});
[[ES_LB,C_LB],[ES_BL,C_BL],[ES_MG,C_MG],[ES_GY,C_GR],[ES_OR,C_YL],[ES_CO,C_CO],[ES_RD,C_RD]].forEach(s=>L(p,0,TD,s[0],s[1]));
L(p,0,TD,ES_ESTH,'#000',{name:'ESTH 490',z:4}); LEG(p,['ESTH 490']);

p=P(0,1,{y:[{min:-8,max:208,ticks:[0,50,100,150,200],labels:[0,50,100,200],hgrid:true,name:'ED4 uW/cm^2/nm'}]});
[[ED4_LB,C_LB],[ED4_BL,C_BL],[ED4_MG,C_MG],[ED4_GR,C_GR],[ED4_OR,C_OR]].forEach(s=>L(p,0,TE,s[0],s[1]));

p=P(0,2,{y:[{min:-0.2,max:5.2,ticks:[0,1,2,3,4,5],labels:[0,1,2,3,4,5],hgrid:true,name:'EU4 uW/cm^2/nm'}]});
[[EU4_LB,C_LB],[EU4_BL,C_BL],[EU4_MG,C_MG],[EU4_GR,C_GR],[EU4_OR,C_OR]].forEach(s=>L(p,0,TE,s[0],s[1]));

p=P(0,3,{y:[{min:-0.06,max:1.56,ticks:[0,0.5,1,1.5],labels:[0,0.5,1,1.5],fmt:f1,hgrid:true,name:'LU4 uW/cm^2/nm/sr'}]});
[[LU4_LB,C_LB],[LU4_BL,C_BL],[LU4_MG,C_MG],[LU4_GR,C_GR],[LU4_OR,C_OR]].forEach(s=>L(p,0,TE,s[0],s[1]));

// ---- Row 2
p=P(1,0,{y:[{min:-4.4e-5,max:1.144e-3,ticks:[0,2e-4,4e-4,6e-4,8e-4,1e-3],labels:[0,4e-4,8e-4],
  fmt:v=>v===0?'0e+00':Math.round(v*1e4)+'e\u221204'}]});
EMPTY('BLACK','#000'); LEG(p,['BLACK']);

p=P(1,1,{y:[{min:-8,max:208,ticks:[0,50,100,150,200],labels:[0,50,100,200],hgrid:true,name:'ED9 uW/cm^2/nm'}]});
[[ED9_LB,C_LB],[ED9_BL,C_BL],[ED9_MG,C_MG],[ED9_GR,C_GR],[ED9_OR,C_OR]].forEach(s=>L(p,0,TE,s[0],s[1]));

p=P(1,2,{y:[{min:-0.2,max:5.2,ticks:[0,1,2,3,4,5],labels:[0,1,2,3,4,5],hgrid:true,name:'EU9 uW/cm^2/nm'}]});
L(p,0,EU9_T1,EU9_BL1,C_BL); L(p,0,EU9_T1,EU9_MG1,C_MG); L(p,0,EU9_T2,EU9_BL2,C_BL); L(p,0,EU9_T2,EU9_LB2,C_LB);

p=P(1,3,{y:[{min:-0.06,max:1.56,ticks:[0,0.5,1,1.5],labels:[0,0.5,1,1.5],fmt:f1,hgrid:true,name:'LU9 uW/cm^2/nm/sr'}]});
[[LU9_LB,C_LB],[LU9_BL,C_BL],[LU9_MG,C_MG],[LU9_GR,C_GR],[LU9_OR,C_OR]].forEach(s=>L(p,0,TE,s[0],s[1]));

// ---- Row 3
p=P(2,0,{y:[{min:-0.12,max:3.12,ticks:TK(0,3,0.5),labels:[0,1,2,3],fmt:f1},
  {min:-0.04,max:1.04,ticks:TK(0,1,0.2),labels:[0,0.4,0.8],fmt:f1,pos:'right',name:'fraction.dir',nameGap:-27}]});
[[ARC_MG,C_MG],[ARC_BL,C_BL],[ARC_LB,C_LB],[ARC_GR,C_GR],[ARC_OR,'#ffa500'],[ARC_RD,'#e00000']].forEach(s=>L(p,1,ARC_T,s[0],s[1]));
L(p,0,ESC_T,ESC_V,'#000',{name:'ES.correction',z:4}); LEG(p,['ES.correction']);

p=P(2,1,{y:[{min:-1.18,max:30.68,ticks:[0,5,10,15,20,25],labels:[0,5,15,25],hgrid:true,name:'ED4 uW/cm^2/nm'}]});
L(p,0,TE,ED4R_CO,C_CO); L(p,0,TE,ED4R_RD,C_RD);

p=P(2,2,{y:[{min:-0.019,max:0.494,ticks:TK(0,0.4,0.1),labels:[0,0.2,0.4],fmt:f1,hgrid:true,name:'EU4 uW/cm^2/nm'}]});
L(p,0,TE,EU4R_CO,C_CO); L(p,0,TE,EU4R_RD,C_RD);

p=P(2,3,{y:[{min:-0.0038,max:0.0989,ticks:TK(0,0.08,0.02),labels:[0,0.04,0.08],fmt:f2,hgrid:true,name:'LU4 uW/cm^2/nm/sr'}]});
L(p,0,TE,LU4R_CO,C_CO); L(p,0,TE,LU4R_RD,C_RD);

// ---- Row 4
p=P(3,0,{y:[{min:-14.4,max:374.4,ticks:TK(0,350,50),labels:[0,100,200,300]},
  {min:11.8,max:93.5,ticks:[20,40,60,80],labels:[20,40,60,80],color:GREEN,offset:32,lm:5},
  {min:-22.5,max:32.9,ticks:[-20,-10,0,10,20,30],labels:[-20,0,10,20,30],color:RED,pos:'right'}]});
L(p,2,TILTX_T,TILTX_V,RED,{name:'TILTX Degrees'});
L(p,2,TILTY_T,TILTY_V,RED,{name:'TILTY Degrees',dash:DASH});
L(p,0,SUNPHI_T,SUNPHI_V,'#000',{name:'SUNPHI degree',dash:DASH});
L(p,0,HEAD_T,HEAD_V,'#000',{name:'HEADING Degrees'});
L(p,1,SUNZEN_T,SUNZEN_V,GREEN,{name:'SUNZEN degree'});
SEG(p,1,'left',20,80,GREEN,32); SEG(p,2,'right',-20,30,RED);
LEG(p,['HEADING Degrees','SUNPHI degree','TILTX Degrees','TILTY Degrees','SUNZEN degree']);

p=P(3,1,{y:[{min:-0.12,max:3.12,ticks:TK(0,3,0.5),labels:[0,1,2,3],fmt:f1,hgrid:true,name:'ED9 uW/cm^2/nm'}]});
L(p,0,TE,ED9R_CO,C_CO); L(p,0,ED9R_Z1_T,ED9R_Z1,C_CO); L(p,0,ED9R_Z2_T,ED9R_Z2,C_CO); L(p,0,TE,ED9R_RD,C_RD);

p=P(3,2,{y:[{min:-0.002,max:0.0522,ticks:TK(0,0.05,0.01),labels:[0,0.02,0.04],fmt:f2,hgrid:true,name:'EU9 uW/cm^2/nm'}]});
L(p,0,EU9R_CO_A_T,EU9R_CO_A,C_CO); L(p,0,EU9R_CO_D_T,EU9R_CO_D,C_CO);
L(p,0,EU9R_RD_A_T,EU9R_RD_A,C_RD); L(p,0,EU9R_RD_B_T,EU9R_RD_B,C_RD); L(p,0,EU9R_RD_C_T,EU9R_RD_C,C_RD); L(p,0,EU9R_RD_D_T,EU9R_RD_D,C_RD);

p=P(3,3,{y:[{min:-0.00038,max:0.00989,ticks:TK(0,0.008,0.002),labels:[0,0.004,0.008],fmt:f3,hgrid:true,name:'LU9 uW/cm^2/nm/sr'}]});
L(p,0,LU9R_T,LU9R_CO,C_CO); L(p,0,LU9R_T,LU9R_RD,C_RD); L(p,0,LU9R_TAIL_T,LU9R_TAIL,C_CO);

// ---- Row 5
p=P(4,0,{y:[{log:true,min:0.00815,max:3.76,ticks:[0.01,0.02,0.05,0.1,0.2,0.5,1,2],labels:[0.01,0.05,0.5],fmt:f2},
  {min:-0.000316,max:0.01058,ticks:TK(0,0.01,0.002),labels:[0,0.004,0.008],fmt:f3,color:RED,pos:'right'}]});
L(p,0,TRANS_T,TRANS_V,'#000',{name:'TRANS.4m c'}); EMPTY('TRANS.9m c','#000',DASH); EMPTY('BB.442',RED); EMPTY('BB.555',RED,DASH);
SEG(p,1,'right',0,0.01,RED);
LEG(p,['TRANS.4m c','TRANS.9m c','BB.442','BB.555']);

p=P(4,1,{y:[{log:true,min:0.0782,max:66.8,ticks:[0.1,0.2,0.5,1,2,5,10,20,50],labels:[0.1,0.5,2,10],fmt:f1},
  {log:true,min:0.0782,max:66.8,ticks:[0.1,0.2,0.5,1,2,5,10,20,50],labels:[0.1,0.5,2,10],fmt:f1,color:RED,pos:'right'}]});
L(p,1,F9_T,F9_V,RED,{name:'FLUOR.9m ug/l'}); L(p,0,F4_T,F4_V,'#000',{name:'FLUOR.4m ug/l'});
SEG(p,1,'right',0.1,50,RED);
LEG(p,['FLUOR.4m ug/l','FLUOR.9m ug/l']);

p=P(4,2,{y:[{min:9.2,max:30.8,ticks:[10,15,20,25,30],labels:[10,15,20,25,30]},
  {min:36.92,max:39.08,ticks:[37,37.5,38,38.5,39],labels:[37,38,39],fmt:f1,color:RED,pos:'right'}]});
L(p,0,TEMP_T,TEMP_V,'#000',{name:'TEMP Degrees'}); EMPTY('meteo.Tsea','#000',DASH); EMPTY('meteo.Tair','#000',DOT);
L(p,1,SAL_T,SAL_V,RED,{name:'SALINITY.S'});
SEG(p,1,'right',37,39,RED);
LEG(p,['TEMP Degrees','meteo.Tsea','meteo.Tair','SALINITY.S']);

p=P(4,3,{y:[{min:-1.2,max:31.2,ticks:TK(0,30,5),labels:[0,5,15,25]},
  {min:-7.2,max:187.2,ticks:[0,50,100,150],labels:[0,50,100,150],color:RED,pos:'right'}]});
L(p,0,TAN_T,TAN_V,'#000',{name:'TANGENT Degrees'}); L(p,1,DPHI_T,DPHI_V,RED,{name:'DPHI degree'});
SEG(p,1,'right',0,150,RED);
LEG(p,['TANGENT Degrees','DPHI degree']);

// ---- Row 6
p=P(5,0,{y:[{min:4.4,max:20.6,ticks:[5,10,15,20],labels:[5,10,15,20]},
  {min:8.75,max:15.2,ticks:TK(9,15,1),labels:[9,11,13,15],color:GREEN,offset:32,lm:5},
  {min:19336,max:35836,ticks:[20000,25000,30000,35000],labels:[20000,30000],color:RED,pos:'right'}]});
L(p,0,DEP_T,DEP_V,'#000',{name:'DEPTH.CTD Meters'}); L(p,0,DEP2_T,DEP2_V,'#000',{dash:DASH});
EMPTY('STRAIN Newtons',RED); EMPTY('VS Volts',GREEN);
SEG(p,1,'left',9,15,GREEN,32); SEG(p,2,'right',20000,35000,RED);
LEG(p,['DEPTH.CTD Meters','STRAIN Newtons','VS Volts']);

p=P(5,1,{vgrid:false,y:[{min:967.6,max:1032.4,ticks:TK(970,1030,10),labels:[970,990,1010,1030]},
  {min:-4,max:104,ticks:TK(0,100,20),labels:[0,20,40,60,80],color:RED,pos:'right'}]});
EMPTY('meteo.AtmPres','#000'); EMPTY('meteo.RH',RED); SEG(p,1,'right',0,100,RED);
LEG(p,['meteo.AtmPres','meteo.RH']);

p=P(5,2,{vgrid:false,y:[{min:-1.6,max:41.6,ticks:TK(0,40,10),labels:[0,10,20,30,40]},
  {min:-14.4,max:374.4,ticks:[0,100,200,300],labels:[0,100,200,300],color:RED,pos:'right'}]});
EMPTY('meteo.WindSpeed','#000'); EMPTY('meteo.Gust','#000',DASH); EMPTY('meteo.WindDir',RED); SEG(p,1,'right',0,300,RED);
LEG(p,['meteo.WindSpeed','meteo.Gust','meteo.WindDir']);

p=P(5,3,{vgrid:false,y:[{min:-0.32,max:8.32,ticks:TK(0,8,2),labels:[0,2,4,6,8]},
  {min:-1.2,max:31.2,ticks:TK(0,30,5),labels:[0,5,15,25],color:RED,pos:'right'}]});
EMPTY('meteo.WaveHeight','#000'); EMPTY('meteo.WavePeriod',RED); SEG(p,1,'right',0,30,RED);
LEG(p,['meteo.WaveHeight','meteo.WavePeriod']);

// ---- Row 7
p=P(6,1,{wl:true,y:[{log:true,min:0.00098,max:0.72,ticks:[0.001,0.01,0.1],labels:[0.001,0.01,0.1],fmt:f3,hgrid:true,name:'Kd'}]});
L(p,0,WL,KD_0930,'#ff0000',{name:'09:30:34'}); L(p,0,WL,KD_1130,'#00cd00',{name:'11:30:34'}); L(p,0,WL,KD_1330,'#0000ff',{name:'13:30:34'});
PTS(p,0,WL,KD_PTS,'#ff0000'); LEGBOX(p,['09:30:34','11:30:34','13:30:34']);

p=P(6,2,{wl:true,y:[{log:true,min:0.00098,max:0.153,ticks:[0.001,0.005,0.05],labels:[0.001,0.005,0.05],fmt:f3,hgrid:true,name:'R9'}]});
PTS(p,0,WL,R9_PTS,'#ff0000'); LEGBOX(p,['09:30:34','11:30:34','13:30:34']);

p=P(6,3,{wl:true,y:[{log:true,min:0.00098,max:2.2,ticks:[0.001,0.05,1],labels:[0.001,0.05,1],fmt:f3,hgrid:true,name:'nLw9'}]});
L(p,0,WL,NLW_0930,'#ff0000'); L(p,0,WL,NLW_1130,'#00cd00'); L(p,0,WL,NLW_1330,'#0000ff');
PTS(p,0,WL,NLW_PTS,'#ff0000'); LEGBOX(p,['09:30:34','11:30:34','13:30:34']);

// Chl map
(function(){
  const g=O.grid.length; O.grid.push({left:60,top:1640,width:270,height:222,show:false});
  O.xAxis.push({gridIndex:g,type:'value',min:0,max:45,show:false});
  O.yAxis.push({gridIndex:g,type:'value',min:0,max:37,inverse:true,show:false});
  const xi=O.xAxis.length-1, yi=O.yAxis.length-1;
  const cells=(arr,color)=>O.series.push({type:'scatter',xAxisIndex:xi,yAxisIndex:yi,data:arr.map(a=>[a[0]+0.5,a[1]+0.5]),
    symbol:'rect',symbolSize:[6.4,6.4],itemStyle:{color:color},silent:true});
  cells(MAP_RING,'#000000'); cells(MAP_CYAN,'#b4ffff');
  O.series.push({type:'scatter',xAxisIndex:xi,yAxisIndex:yi,data:MAP_YELLOW,symbol:'rect',symbolSize:[10,4],itemStyle:{color:'#ffd700'},silent:true});
  const gc=O.grid.length; O.grid.push({left:334,top:1620,width:20,height:246,show:false});
  O.xAxis.push({gridIndex:gc,type:'value',min:0,max:1,show:false});
  O.yAxis.push({gridIndex:gc,type:'value',min:0,max:CB_COLORS.length,inverse:true,position:'right',
    axisLine:{show:false},axisTick:{show:false},splitLine:{show:false},
    axisLabel:{customValues:CB_LABEL_POS,formatter:v=>CB_LABELS[CB_LABEL_POS.indexOf(v)],rotate:90,fontSize:9,margin:12,fontFamily:FONT,color:'#000'}});
  const cx=O.xAxis.length-1, cy=O.yAxis.length-1;
  O.series.push({type:'scatter',xAxisIndex:cx,yAxisIndex:cy,symbol:'rect',symbolSize:[20,246/CB_COLORS.length+0.6],silent:true,
    data:CB_COLORS.map((col,i)=>({value:[0.5,i+0.5],itemStyle:{color:col}}))});
  O.title.push({text:'Chl NA +/\u2212 NA',left:66,top:1620,padding:0,textStyle:{fontSize:15,fontWeight:'bold',fontFamily:FONT,color:'#000'}});
})();

const chart=echarts.init(document.getElementById('c'),null,{renderer:'canvas'});
chart.setOption(O);
</script></body></html>
